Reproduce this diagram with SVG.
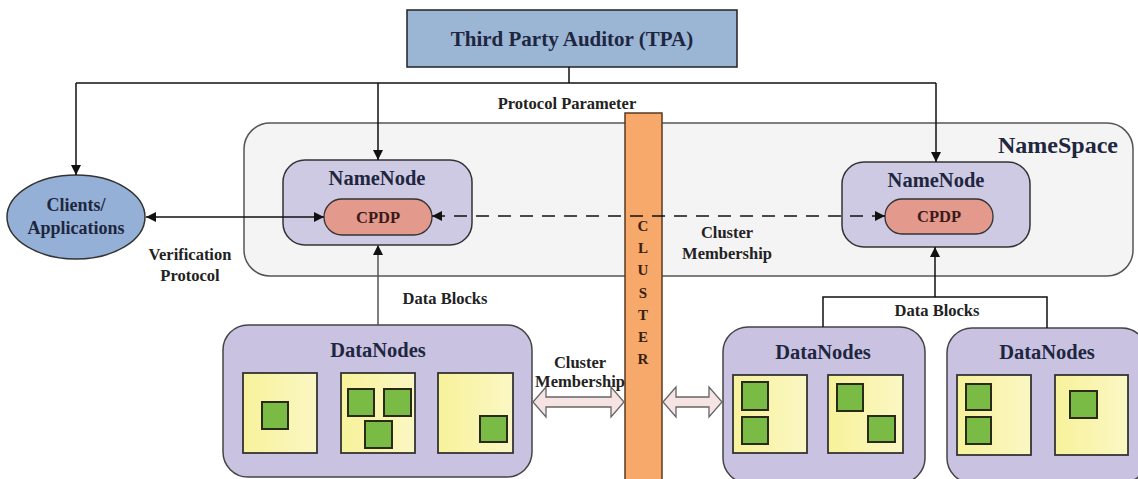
<svg xmlns="http://www.w3.org/2000/svg" width="1138" height="479" viewBox="0 0 1138 479" font-family="Liberation Serif, Times New Roman, serif" font-weight="bold">
<style>
text{text-anchor:middle;fill:#1e2640;}
.lbl{font-size:16.5px;fill:#222;}
.title{font-size:20.5px;}
.cpdp{font-size:16.5px;fill:#3a1a1a;}
.line{stroke:#111;stroke-width:1.5;fill:none;}
.gline{stroke:#555;stroke-width:1.5;fill:none;}
.nn{fill:#cfcae4;stroke:#333;stroke-width:1.5;}
.cp{fill:#e3998c;stroke:#333;stroke-width:1.3;}
.dn{fill:#c9c2e0;stroke:#444;stroke-width:1.5;}
.yb{fill:url(#yg);stroke:#333;stroke-width:1.8;}
.gb{fill:#79bb45;stroke:#2a2a1a;stroke-width:2;}
.dbl{fill:#f6e4e4;stroke:#666;stroke-width:1.3;}
.cl{font-size:15px;fill:#3a2010;}
</style>
<defs>
<marker id="ah" viewBox="0 0 10 10" refX="10" refY="5" markerWidth="12" markerHeight="10" markerUnits="userSpaceOnUse" orient="auto-start-reverse">
<path d="M0,0 L10,5 L0,10 z" fill="#111"/>
</marker>
<linearGradient id="yg" x1="0" y1="0" x2="1" y2="0">
<stop offset="0" stop-color="#f7f29a"/>
<stop offset="1" stop-color="#fbf7c4"/>
</linearGradient>
</defs>

<g id="namespace">
<rect x="244" y="123" width="889" height="153" rx="26" fill="#f4f4f4" stroke="#555" stroke-width="1.5"/>
<text x="1058" y="153" font-size="24">NameSpace</text>
</g>

<g id="tpa">
<rect x="407" y="10" width="330" height="57" fill="#9bb5d5" stroke="#222" stroke-width="1.5"/>
<text x="572" y="46" font-size="21">Third Party Auditor (TPA)</text>
</g>

<g id="clients">
<ellipse cx="76" cy="217" rx="69" ry="42" fill="#94b0d6" stroke="#333" stroke-width="1.5"/>
<text x="76" y="211" font-size="18">Clients/</text>
<text x="76" y="234" font-size="18">Applications</text>
</g>

<g id="namenode-left">
<rect x="283" y="160" width="189" height="85" rx="22" class="nn"/>
<text x="377" y="185" class="title">NameNode</text>
<rect x="324" y="199" width="108" height="36" rx="18" class="cp"/>
<text x="378" y="223" class="cpdp">CPDP</text>
</g>

<g id="namenode-right">
<rect x="842" y="162" width="188" height="85" rx="22" class="nn"/>
<text x="936" y="187" class="title">NameNode</text>
<rect x="885" y="199" width="108" height="35" rx="17" class="cp"/>
<text x="939" y="222" class="cpdp">CPDP</text>
</g>

<g id="datanodes-left">
<rect x="223" y="325" width="309" height="152" rx="25" class="dn"/>
<text x="378" y="357" class="title">DataNodes</text>
<rect x="243" y="373" width="74" height="80" class="yb"/>
<rect x="341" y="373" width="74" height="80" class="yb"/>
<rect x="438" y="373" width="75" height="80" class="yb"/>
<rect x="262" y="402" width="26" height="27" class="gb"/>
<rect x="348" y="389" width="26" height="27" class="gb"/>
<rect x="384" y="389" width="27" height="27" class="gb"/>
<rect x="365" y="421" width="27" height="27" class="gb"/>
<rect x="480" y="416" width="27" height="26" class="gb"/>
</g>

<g id="datanodes-mid">
<rect x="723" y="327" width="202" height="156" rx="25" class="dn"/>
<text x="823" y="359" class="title">DataNodes</text>
<rect x="733" y="375" width="74" height="78" class="yb"/>
<rect x="828" y="375" width="75" height="78" class="yb"/>
<rect x="742" y="382" width="26" height="28" class="gb"/>
<rect x="742" y="417" width="26" height="27" class="gb"/>
<rect x="837" y="384" width="26" height="27" class="gb"/>
<rect x="868" y="416" width="27" height="26" class="gb"/>
</g>

<g id="datanodes-right">
<rect x="947" y="328" width="200" height="155" rx="25" class="dn"/>
<text x="1047" y="359" class="title">DataNodes</text>
<rect x="957" y="375" width="74" height="80" class="yb"/>
<rect x="1055" y="375" width="73" height="80" class="yb"/>
<rect x="966" y="384" width="25" height="26" class="gb"/>
<rect x="966" y="417" width="25" height="27" class="gb"/>
<rect x="1070" y="391" width="27" height="27" class="gb"/>
</g>

<g id="cluster">
<rect x="625" y="113" width="37" height="370" fill="#f7a96b" stroke="#5a3a20" stroke-width="1.5"/>
<text x="643" y="231" class="cl">C</text>
<text x="643" y="253" class="cl">L</text>
<text x="643" y="275" class="cl">U</text>
<text x="643" y="298" class="cl">S</text>
<text x="643" y="320" class="cl">T</text>
<text x="643" y="342" class="cl">E</text>
<text x="643" y="364" class="cl">R</text>
</g>

<g id="connectors">
<polyline class="line" points="569,67 569,83"/>
<line class="line" x1="76" y1="83" x2="936" y2="83"/>
<line class="line" x1="76" y1="83" x2="76" y2="175" marker-end="url(#ah)"/>
<line class="line" x1="378" y1="83" x2="378" y2="160" marker-end="url(#ah)"/>
<line class="line" x1="936" y1="83" x2="936" y2="162" marker-end="url(#ah)"/>
<line class="line" x1="146" y1="217" x2="324" y2="217" marker-start="url(#ah)" marker-end="url(#ah)"/>
<line class="line" x1="432" y1="216" x2="885" y2="216" stroke-dasharray="13 9" marker-start="url(#ah)" marker-end="url(#ah)"/>
<line class="gline" x1="378" y1="325" x2="378" y2="245" marker-end="url(#ah)"/>
<polyline class="line" points="823,327 823,297 1047,297 1047,328"/>
<line class="line" x1="935" y1="297" x2="935" y2="247" marker-end="url(#ah)"/>
<path class="dbl" d="M533,402 L546,387 L546,397 L611,397 L611,387 L624,402 L611,417 L611,407 L546,407 L546,417 Z"/>
<path class="dbl" d="M663,402 L676,387 L676,397 L709,397 L709,387 L722,402 L709,417 L709,407 L676,407 L676,417 Z"/>
</g>

<g id="labels">
<text x="567" y="109" class="lbl">Protocol Parameter</text>
<text x="190" y="260" class="lbl">Verification</text>
<text x="190" y="281" class="lbl">Protocol</text>
<text x="445" y="304" class="lbl">Data Blocks</text>
<text x="937" y="316" class="lbl">Data Blocks</text>
<text x="727" y="238" class="lbl">Cluster</text>
<text x="727" y="259" class="lbl">Membership</text>
<text x="580" y="368" class="lbl">Cluster</text>
<text x="580" y="387" class="lbl">Membership</text>
</g>
</svg>
